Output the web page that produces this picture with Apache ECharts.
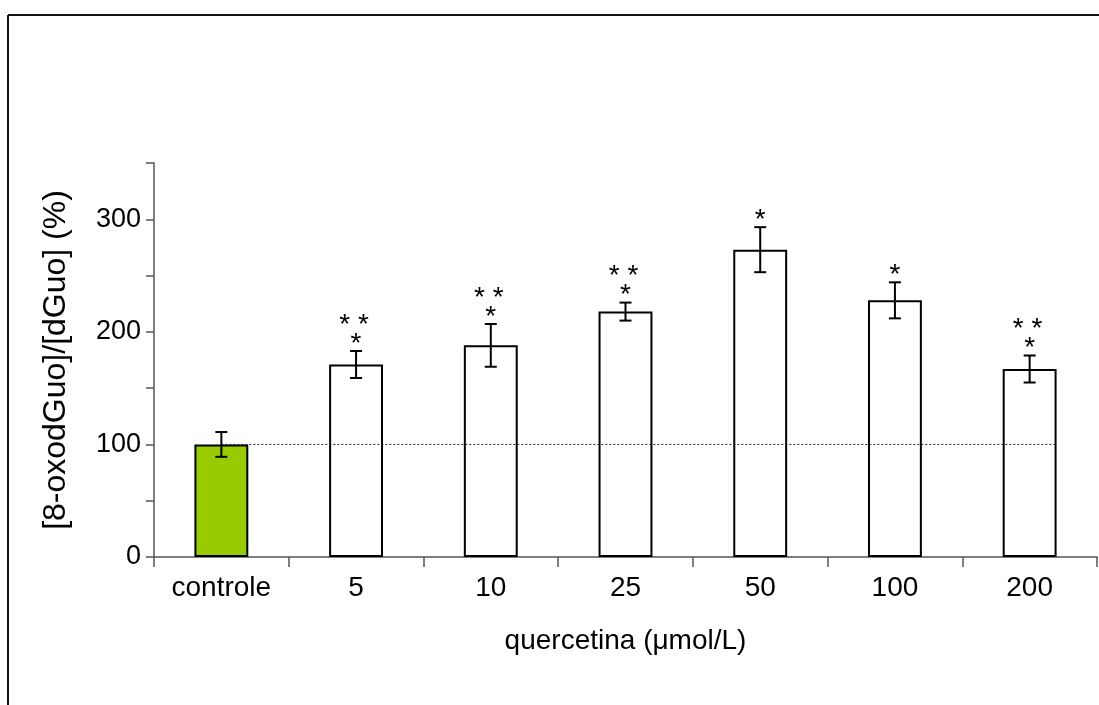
<!DOCTYPE html>
<html>
<head>
<meta charset="utf-8">
<script src="https://cdn.jsdelivr.net/npm/echarts@6/dist/echarts.min.js"></script>
<style>
html, body { margin: 0; padding: 0; background: #fff; }
#chart { width: 1099px; height: 705px; }
</style>
</head>
<body>
<div id="chart"></div>
<script>
// data
var categories = ['controle', '5', '10', '25', '50', '100', '200'];
var means = [100, 171, 188, 218, 273, 228, 167];
var errors = [11, 12, 19, 8, 20, 16, 12];
var upperMarks = ['', '* *', '* *', '* *', '', '', '* *'];
var lowerMarks = ['', '*', '*', '*', '*', '*', '*'];
var yTicks = [0, 100, 200, 300];
var refValue = 100;

var font = 'Liberation Sans, Arial, sans-serif';
var chart = echarts.init(document.getElementById('chart'));

var barData = means.map(function (v, i) {
    return {
        value: v,
        itemStyle: { color: i === 0 ? '#99cc00' : '#ffffff' }
    };
});

var errData = means.map(function (v, i) {
    return [i, v, errors[i]];
});

var option = {
    animation: false,
    grid: { left: 154, right: 2, top: 163, bottom: 148 },
    graphic: [
        { type: 'line', shape: { x1: 8, y1: 15, x2: 1099, y2: 15 }, style: { stroke: '#111', lineWidth: 2 } },
        { type: 'line', shape: { x1: 8, y1: 15, x2: 8, y2: 705 }, style: { stroke: '#111', lineWidth: 2 } }
    ],
    xAxis: {
        type: 'category',
        data: categories,
        name: 'quercetina (\u03bcmol/L)',
        nameLocation: 'middle',
        nameGap: 70,
        nameTextStyle: { fontFamily: font, fontSize: 28, color: '#000' },
        axisLine: { lineStyle: { color: '#555', width: 1.5 } },
        axisTick: { show: true, length: 10, lineStyle: { color: '#555', width: 1.5 } },
        axisLabel: { fontFamily: font, fontSize: 28, color: '#000', margin: 17 }
    },
    yAxis: {
        type: 'value',
        min: 0,
        max: 350,
        interval: 50,
        name: '[8-oxodGuo]/[dGuo] (%)',
        nameLocation: 'middle',
        nameGap: 82,
        nameTextStyle: { fontFamily: font, fontSize: 32, color: '#000' },
        splitLine: { show: false },
        axisLine: { show: true, lineStyle: { color: '#555', width: 1.5 } },
        axisTick: { show: true, length: 8, lineStyle: { color: '#555', width: 1.5 } },
        axisLabel: {
            fontFamily: font, fontSize: 27, color: '#000', margin: 13,
            formatter: function (v) { return yTicks.indexOf(v) >= 0 ? String(v) : ''; }
        }
    },
    series: [
        {
            type: 'bar',
            data: barData,
            barWidth: '40%',
            itemStyle: { borderColor: '#000', borderWidth: 2 },
            z: 2
        },
        {
            type: 'custom',
            data: [[0, refValue]],
            z: 3,
            renderItem: function (params, api) {
                var start = api.coord([0, api.value(1)]);
                var end = api.coord([categories.length - 1, api.value(1)]);
                var band = api.size([1, 0])[0];
                return {
                    type: 'line',
                    shape: { x1: start[0], y1: start[1], x2: end[0] + band * 0.2, y2: end[1] },
                    style: { stroke: '#222', lineWidth: 1, lineDash: [2, 2] }
                };
            }
        },
        {
            type: 'custom',
            data: errData,
            z: 4,
            renderItem: function (params, api) {
                var i = api.value(0);
                var m = api.value(1);
                var e = api.value(2);
                var top = api.coord([i, m + e]);
                var bot = api.coord([i, m - e]);
                var x = top[0];
                var cap = 6;
                var ls = { stroke: '#000', lineWidth: 2 };
                var children = [
                    { type: 'line', shape: { x1: x, y1: top[1], x2: x, y2: bot[1] }, style: ls },
                    { type: 'line', shape: { x1: x - cap, y1: top[1], x2: x + cap, y2: top[1] }, style: ls },
                    { type: 'line', shape: { x1: x - cap, y1: bot[1], x2: x + cap, y2: bot[1] }, style: ls }
                ];
                var idx = params.dataIndex;
                if (lowerMarks[idx]) {
                    children.push({
                        type: 'text',
                        style: { text: lowerMarks[idx], x: x, y: top[1] - 7, align: 'center', verticalAlign: 'middle', font: '28px ' + font, fill: '#000' }
                    });
                }
                if (upperMarks[idx]) {
                    children.push({
                        type: 'text',
                        style: { text: upperMarks[idx], x: x - 2, y: top[1] - 26, align: 'center', verticalAlign: 'middle', font: '28px ' + font, fill: '#000' }
                    });
                }
                return { type: 'group', children: children };
            }
        }
    ]
};

chart.setOption(option);
</script>
</body>
</html>
